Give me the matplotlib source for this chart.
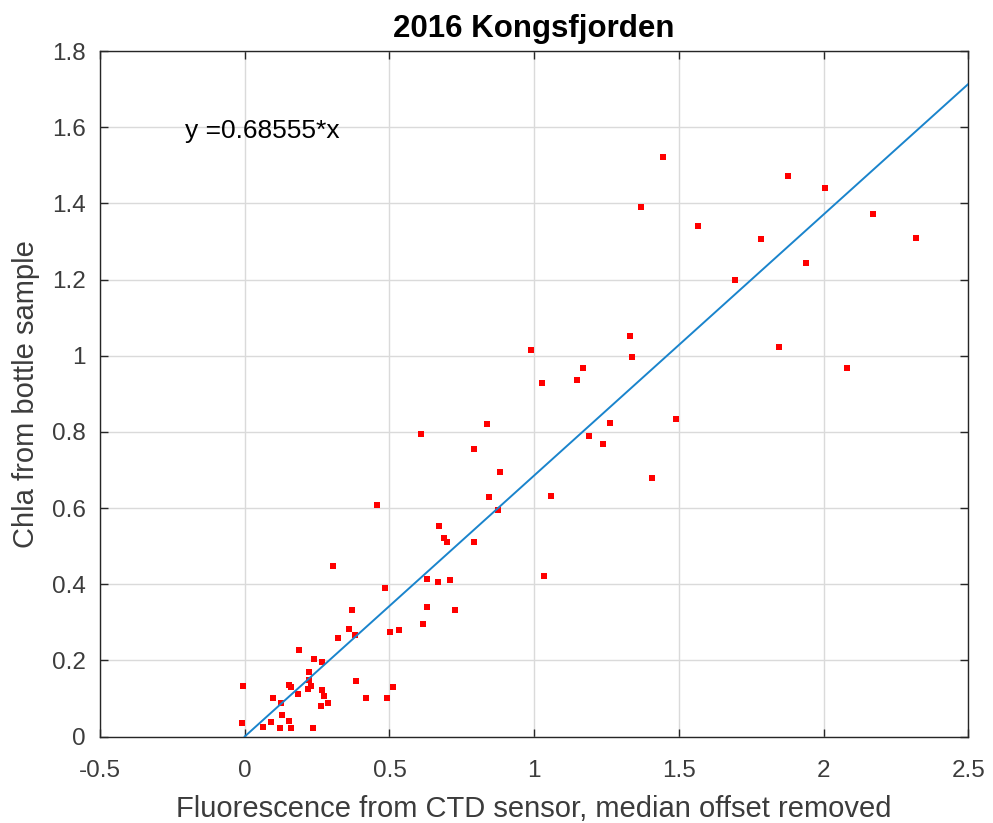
import matplotlib
matplotlib.use("Agg")
import matplotlib.pyplot as plt
import numpy as np

plt.rcParams['font.family'] = ['Liberation Sans', 'DejaVu Sans']

# Data
fluorescence = [1.444, 1.876, 2.004, 1.370, 1.565, 2.170, 1.782, 2.319, 1.940, 1.692,
                1.330, 1.336, 1.844, 2.082, 0.990, 1.169, 1.027, 1.149, 1.261, 1.488,
                1.188, 1.236, 1.407, 0.838, 0.608, 0.792, 0.881, 0.843, 1.058, 0.874,
                0.457, 0.671, 0.688, 0.699, 0.791, 1.033, 0.304, 0.486, 0.630, 0.667,
                0.709, 0.630, 0.372, 0.728, 0.617, 0.360, 0.534, 0.501, 0.381, 0.322,
                0.188, 0.239, 0.268, 0.222, 0.221, 0.386, -0.006, 0.153, 0.160, 0.230,
                0.217, 0.511, 0.266, 0.184, 0.273, 0.096, 0.419, 0.492, 0.124, 0.265,
                0.289, 0.129, 0.153, -0.008, 0.092, 0.063, 0.122, 0.161, 0.236]
chla = [1.521, 1.472, 1.440, 1.390, 1.341, 1.373, 1.306, 1.309, 1.243, 1.200,
        1.052, 0.996, 1.022, 0.968, 1.016, 0.967, 0.928, 0.935, 0.822, 0.833,
        0.789, 0.767, 0.680, 0.820, 0.794, 0.754, 0.695, 0.628, 0.631, 0.595,
        0.609, 0.552, 0.522, 0.512, 0.512, 0.421, 0.448, 0.389, 0.414, 0.406,
        0.411, 0.341, 0.332, 0.331, 0.296, 0.282, 0.280, 0.274, 0.267, 0.258,
        0.226, 0.203, 0.195, 0.169, 0.148, 0.147, 0.133, 0.136, 0.130, 0.133,
        0.124, 0.129, 0.122, 0.111, 0.106, 0.100, 0.102, 0.100, 0.089, 0.080,
        0.087, 0.057, 0.041, 0.035, 0.037, 0.026, 0.022, 0.022, 0.022]
slope = 0.68555
fit_x = [0.0, 2.5]
x_ticks = [-0.5, 0, 0.5, 1, 1.5, 2, 2.5]
x_ticklabels = ['-0.5', '0', '0.5', '1', '1.5', '2', '2.5']
y_ticks = [0, 0.2, 0.4, 0.6, 0.8, 1, 1.2, 1.4, 1.6, 1.8]
y_ticklabels = ['0', '0.2', '0.4', '0.6', '0.8', '1', '1.2', '1.4', '1.6', '1.8']

fig = plt.figure(figsize=(9.93, 8.23), dpi=100)
ax = fig.add_axes([0.1007, 0.1051, 0.9753 - 0.1007, 0.938 - 0.1051])

axis_col = '#262626'
label_col = '#3c3c3c'
ax.plot(fluorescence, chla, linestyle='none', marker='s', markersize=4.0,
        markerfacecolor='#ff0000', markeredgewidth=0, zorder=3)
fit_y = [slope * v for v in fit_x]
ax.plot(fit_x, fit_y, color='#1a84cc', linewidth=1.4, zorder=4)

ax.set_xlim(-0.5, 2.5)
ax.set_ylim(0, 1.8)
ax.set_xticks(x_ticks)
ax.set_xticklabels(x_ticklabels)
ax.set_yticks(y_ticks)
ax.set_yticklabels(y_ticklabels)
ax.grid(True, color='#dadada', linewidth=1.0, zorder=0)
ax.set_axisbelow(True)
ax.tick_params(direction='in', length=6, width=1, colors=axis_col,
               labelcolor=label_col, labelsize=17.5, top=True, right=True)
ax.tick_params(axis='x', pad=17)
ax.tick_params(axis='y', pad=10)
for s in ax.spines.values():
    s.set_color(axis_col)
    s.set_linewidth(1.0)

ax.set_xlabel('Fluorescence from CTD sensor, median offset removed',
              fontsize=21, color=label_col, labelpad=9)
ax.set_ylabel('Chla from bottle sample', fontsize=21, color=label_col, labelpad=9)
ax.set_title('2016 Kongsfjorden', fontsize=22.5, fontweight='bold', pad=10)
ax.text(-0.205, 1.59, 'y =%g*x' % slope, fontsize=19, ha='left', va='center',
        color='#000000')

fig.savefig('out.png', dpi=100)
